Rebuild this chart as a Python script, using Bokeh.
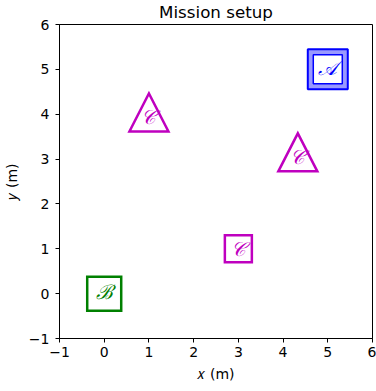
from bokeh.plotting import figure
from bokeh.models import Range1d, FixedTicker, Title
from bokeh.core.properties import value
from bokeh.embed import file_html
from bokeh.resources import INLINE

# ---- data ----
title_text = "Mission setup"
x_label = "\U0001D465 (m)"   # italic x
y_label = "\U0001D466 (m)"   # italic y
ticks = [-1, 0, 1, 2, 3, 4, 5, 6]
tick_labels = {t: (("\u2212" + str(-t)) if t < 0 else str(t)) for t in ticks}

goal_x = [5.0]
goal_y = [5.0]
goal_text = ["\U0001D49C"]      # script A

start_x = [0.0]
start_y = [0.0]
start_text = ["\u212C"]         # script B

obs_sq_x = [3.0]
obs_sq_y = [1.0]
obs_sq_text = ["\U0001D49E"]    # script C

obs_tri_x = [1.0, 4.33]
obs_tri_y = [4.04, 3.15]
obs_tri_text = ["\U0001D49E", "\U0001D49E"]

BLUE = "#0000ff"
GREEN = "#008000"
MAG = "#bf00bf"
FONT = "DejaVu Sans"
CAL_FONT = "DejaVu Serif"

p = figure(frame_width=313, frame_height=314,
           x_range=Range1d(-1, 6), y_range=Range1d(-1, 6),
           output_backend="svg", toolbar_location=None,
           min_border_left=59, min_border_right=4,
           min_border_top=23, min_border_bottom=54)
p.grid.visible = False
p.outline_line_color = "black"
p.outline_line_width = 1
p.background_fill_color = "white"
p.border_fill_color = "white"

p.title = Title(text=title_text, align="center", text_font=FONT, text_font_size="16.7px",
                text_font_style="normal", text_color="black", standoff=2,
                vertical_align="top")

for ax in (p.xaxis[0], p.yaxis[0]):
    ax.ticker = FixedTicker(ticks=ticks)
    ax.major_label_overrides = tick_labels
    ax.major_tick_out = 4
    ax.major_tick_in = 0
    ax.minor_tick_out = 0
    ax.minor_tick_in = 0
    ax.axis_line_color = "black"
    ax.major_tick_line_color = "black"
    ax.major_label_text_font = FONT
    ax.major_label_text_font_size = "14px"
    ax.major_label_text_color = "black"
    ax.axis_label_text_font = FONT
    ax.axis_label_text_font_size = "14px"
    ax.axis_label_text_font_style = "normal"
    ax.axis_label_text_color = "black"
p.xaxis.axis_label = x_label
p.yaxis.axis_label = y_label
p.xaxis.major_label_standoff = 4
p.yaxis.major_label_standoff = 6
p.xaxis.axis_label_standoff = 6
p.yaxis.axis_label_standoff = 6

# goal (A): outer filled square + inner white square
p.scatter(goal_x, goal_y, marker="square", size=40, fill_color=BLUE, fill_alpha=0.4,
          line_color=BLUE, line_width=2)
p.scatter(goal_x, goal_y, marker="square", size=29, fill_color="white",
          line_color=BLUE, line_width=1.5)
p.text(goal_x, goal_y, text=goal_text, text_font=value(CAL_FONT), text_font_size="20px",
       text_font_style="italic", text_color=BLUE, text_align="center", text_baseline="middle",
       y_offset=-1)

# start (B)
p.scatter(start_x, start_y, marker="square", size=34, fill_color=None,
          line_color=GREEN, line_width=2.5, line_join="miter")
p.text(start_x, start_y, text=start_text, text_font=value(CAL_FONT), text_font_size="20px",
       text_font_style="italic", text_color=GREEN, text_align="center", text_baseline="middle",
       y_offset=-2)

# square obstacle
p.scatter(obs_sq_x, obs_sq_y, marker="square", size=27, fill_color=None,
          line_color=MAG, line_width=2.5, line_join="miter")
p.text(obs_sq_x, obs_sq_y, text=obs_sq_text, text_font=value(CAL_FONT), text_font_size="20px",
       text_font_style="italic", text_color=MAG, text_align="center", text_baseline="middle")

# triangle obstacles (drawn around their centres in data units)
hw = 19.5 / (313 / 7.0)
hh = 19.0 / (314 / 7.0)
tri_xs = [[cx - hw, cx + hw, cx] for cx in obs_tri_x]
tri_ys = [[cy - hh, cy - hh, cy + hh] for cy in obs_tri_y]
p.patches(tri_xs, tri_ys, fill_color=None, line_color=MAG, line_width=2.5, line_join="miter")
p.text(obs_tri_x, obs_tri_y, text=obs_tri_text, text_font=value(CAL_FONT), text_font_size="20px",
       text_font_style="italic", text_color=MAG, text_align="center", text_baseline="middle",
       y_offset=5)

open("out.html", "w").write(file_html(p, INLINE))
